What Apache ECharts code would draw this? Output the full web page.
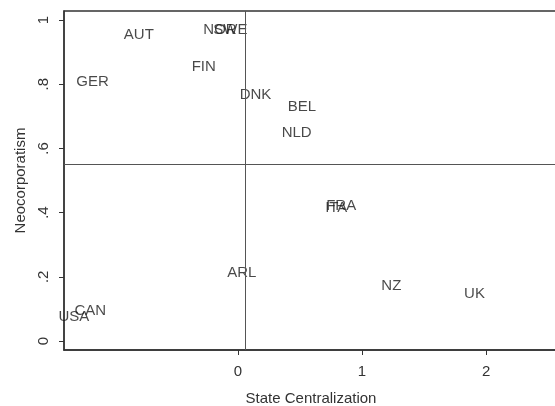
<!DOCTYPE html>
<html><head><meta charset="utf-8">
<script src="https://cdn.jsdelivr.net/npm/echarts@6/dist/echarts.min.js"></script>
<style>html,body{margin:0;padding:0;background:#fff}#c{width:555px;height:406px}</style>
</head><body><div id="c"></div>
<script>
var countries = ['AUT','NOR','SWE','FIN','GER','DNK','BEL','NLD','FRA','ITA','ARL','NZ','UK','CAN','USA'];
var centralization = [-0.80,-0.145,-0.062,-0.276,-1.173,0.141,0.516,0.473,0.832,0.792,0.03,1.236,1.907,-1.191,-1.324];
var neocorporatism = [0.955,0.969,0.969,0.855,0.808,0.766,0.728,0.649,0.421,0.414,0.211,0.171,0.148,0.094,0.076];
var xTicks = [0,1,2];
var yTicks = [0,0.2,0.4,0.6,0.8,1];
var yTickLabels = ['0','.2','.4','.6','.8','1'];
var meanX = 0.062, meanY = 0.551;

var data = countries.map(function(c,i){return {name:c, value:[centralization[i], neocorporatism[i]]};});
var font = 'Liberation Sans, Arial, Helvetica, sans-serif';
var chart = echarts.init(document.getElementById('c'));
chart.setOption({
  animation:false,
  grid:{left:64,top:11,right:-3,bottom:56,show:true,borderColor:'#333',borderWidth:1.3,containLabel:false,outerBoundsMode:'none'},
  xAxis:{type:'value',min:-1.403,max:2.58,
    name:'State Centralization',nameLocation:'middle',nameGap:41,
    nameTextStyle:{fontFamily:font,fontSize:15,color:'#333'},
    axisLine:{show:true,onZero:false,lineStyle:{color:'#333',width:1.5}},
    axisTick:{show:true,length:5,lineStyle:{color:'#333'},customValues:xTicks},
    axisLabel:{fontFamily:font,fontSize:15,color:'#333',margin:14,customValues:xTicks},
    splitLine:{show:false}},
  yAxis:{type:'value',min:-0.028,max:1.028,
    name:'Neocorporatism',nameLocation:'middle',nameGap:30,nameRotate:90,
    nameTextStyle:{fontFamily:font,fontSize:15,color:'#333'},
    axisLine:{show:true,onZero:false,lineStyle:{color:'#333',width:1.5}},
    axisTick:{show:true,length:5,lineStyle:{color:'#333'},customValues:yTicks},
    axisLabel:{fontFamily:font,fontSize:15,color:'#333',margin:13,rotate:90,customValues:yTicks,
      formatter:function(v){var i=yTicks.indexOf(Math.round(v*10)/10);return i>=0?yTickLabels[i]:'';}},
    splitLine:{show:false}},
  series:[{type:'scatter',data:data,symbolSize:1,itemStyle:{color:'rgba(0,0,0,0)'},
    label:{show:true,position:'inside',formatter:'{b}',fontFamily:font,fontSize:15,color:'#1a1a1a',textBorderWidth:0},
    markLine:{silent:true,symbol:'none',label:{show:false},lineStyle:{color:'#555',width:1,type:'solid'},
      data:[{xAxis:meanX},{yAxis:meanY}]}
  }]
});
</script></body></html>
